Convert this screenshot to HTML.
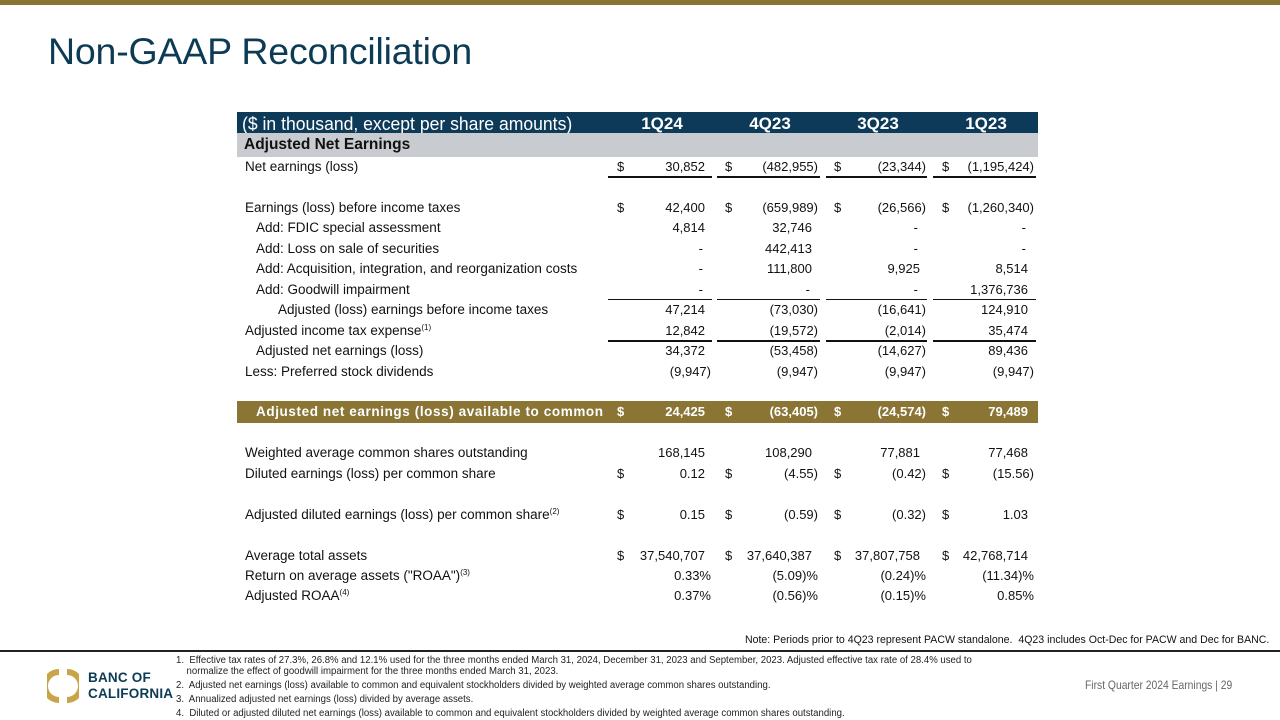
<!DOCTYPE html>
<html><head><meta charset="utf-8">
<style>
*{margin:0;padding:0;box-sizing:border-box}
body{width:1280px;height:720px;background:#fff;position:relative;overflow:hidden;font-family:"Liberation Sans",Arial,sans-serif;color:#111}
.abs{position:absolute;white-space:nowrap}
.t{font-size:13px;line-height:16px}
.lab{font-size:13.5px;line-height:16px}
.r{text-align:right}
sup{font-size:8px;line-height:0;vertical-align:5px}
</style></head>
<body>
<div class="abs" style="left:0;top:0;width:1280px;height:5px;background:#8a7535"></div>
<div class="abs" style="left:48px;top:30px;font-size:37.5px;color:#0d3b55;letter-spacing:-0.2px">Non-GAAP Reconciliation</div>

<div id="tbl" class="abs" style="left:0;top:0;width:1280px;height:720px"></div>

<div class="abs" style="left:745px;top:634px;font-size:11px;transform:scaleX(0.96);transform-origin:left">Note: Periods prior to 4Q23 represent PACW standalone.&nbsp; 4Q23 includes Oct-Dec for PACW and Dec for BANC.</div>
<div class="abs" style="left:0;top:650px;width:1280px;height:2px;background:#222"></div>

<svg class="abs" style="left:47px;top:669px" width="32" height="34" viewBox="0 0 32 34">
<path d="M12 3 A14 14 0 0 0 12 31" fill="none" stroke="#c9a449" stroke-width="6"/>
<path d="M20 3 A14 14 0 0 1 20 31" fill="none" stroke="#c9a449" stroke-width="6"/>
</svg>
<div class="abs" style="left:88px;top:670px;font-size:13.5px;font-weight:bold;color:#0d3b55;line-height:16px;letter-spacing:0.2px">BANC OF<br>CALIFORNIA</div>

<div class="abs" style="left:176px;top:655px;font-size:10px;line-height:11px;color:#222;transform:scaleX(0.96);transform-origin:left">
<div>1.&nbsp; Effective tax rates of 27.3%, 26.8% and 12.1% used for the three months ended March 31, 2024, December 31, 2023 and September, 2023. Adjusted effective tax rate of 28.4% used to</div>
<div style="margin-left:11px">normalize the effect of goodwill impairment for the three months ended March 31, 2023.</div>
<div style="margin-top:3px">2.&nbsp; Adjusted net earnings (loss) available to common and equivalent stockholders divided by weighted average common shares outstanding.</div>
<div style="margin-top:3px">3.&nbsp; Annualized adjusted net earnings (loss) divided by average assets.</div>
<div style="margin-top:3px">4.&nbsp; Diluted or adjusted diluted net earnings (loss) available to common and equivalent stockholders divided by weighted average common shares outstanding.</div>
</div>
<div class="abs" style="left:1085px;top:678px;font-size:12px;color:#666;transform:scaleX(0.86);transform-origin:left">First Quarter 2024 Earnings | 29</div>

<script>
const periods = ["1Q24","4Q23","3Q23","1Q23"];
const rowLabels = ["Net earnings (loss)","","Earnings (loss) before income taxes","Add: FDIC special assessment","Add: Loss on sale of securities","Add: Acquisition, integration, and reorganization costs","Add: Goodwill impairment","Adjusted (loss) earnings before income taxes","Adjusted income tax expense","Adjusted net earnings (loss)","Less: Preferred stock dividends","","Adjusted net earnings (loss) available to common","","Weighted average common shares outstanding","Diluted earnings (loss) per common share","","Adjusted diluted earnings (loss) per common share","","Average total assets","Return on average assets (\"ROAA\")","Adjusted ROAA"];
const rowSup = ["","","","","","","","","(1)","","","","","","","","","(2)","","","(3)","(4)"];
const rowIndent = [0,0,0,1,1,1,1,2,0,1,0,0,1,0,0,0,0,0,0,0,0,0];
const rowDollar = [1,0,1,0,0,0,0,0,0,0,0,0,1,0,0,1,0,1,0,1,0,0];
const col1Q24 = ["30,852","","42,400","4,814","-","-","-","47,214","12,842","34,372","(9,947)","","24,425","","168,145","0.12","","0.15","","37,540,707","0.33%","0.37%"];
const col4Q23 = ["(482,955)","","(659,989)","32,746","442,413","111,800","-","(73,030)","(19,572)","(53,458)","(9,947)","","(63,405)","","108,290","(4.55)","","(0.59)","","37,640,387","(5.09)%","(0.56)%"];
const col3Q23 = ["(23,344)","","(26,566)","-","-","9,925","-","(16,641)","(2,014)","(14,627)","(9,947)","","(24,574)","","77,881","(0.42)","","(0.32)","","37,807,758","(0.24)%","(0.15)%"];
const col1Q23 = ["(1,195,424)","","(1,260,340)","-","-","8,514","1,376,736","124,910","35,474","89,436","(9,947)","","79,489","","77,468","(15.56)","","1.03","","42,768,714","(11.34)%","0.85%"];
const underlineRows = [0,6,8];
const underlineThick = [2,1,2];

const cols = [col1Q24,col4Q23,col3Q23,col1Q23];
const T = document.getElementById('tbl');
const colEdge = [705,812,920,1028];
const dollarX = [617,725,834,942];
const headX = [662,770,878,986];
const rowY = i => 167 + i*20.45;
function add(html, style, cls){
  const d = document.createElement('div');
  d.className = 'abs ' + (cls||'');
  d.setAttribute('style', style);
  d.innerHTML = html;
  T.appendChild(d);
  return d;
}
let h = add('', 'left:237px;top:112px;width:801px;height:21px;background:#0e3a59');


h = add('($ in thousand, except per share amounts)', 'left:242px;top:113px;font-size:18.5px;color:#fff;line-height:21px;transform:scaleX(0.95);transform-origin:left');


periods.forEach((p,j)=>{
  const e = add(p, 'left:'+(headX[j]-30)+'px;width:60px;top:113px;font-size:17px;font-weight:bold;color:#fff;line-height:21px;text-align:center');
  
  
});
h = add('Adjusted Net Earnings', 'left:237px;top:133px;width:801px;height:24px;background:#c8ccd0;font-size:15.5px;font-weight:bold;padding-left:7px;line-height:23px');



rowLabels.forEach((lab,i)=>{
  if(!lab) return;
  const y = rowY(i) - 8;
  const hl = (i===12);
  if(hl){
    const b = add('', 'left:237px;top:'+(y-3)+'px;width:801px;height:22px;background:#8a7535');
    
    
  }
  const style = hl ? 'color:#fff;font-weight:bold;' : '';
  const lx = [245,256,278][rowIndent[i]];
  const l = add(lab + (rowSup[i]?'<sup>'+rowSup[i]+'</sup>':''), 'left:'+lx+'px;top:'+y+'px;'+style+(hl?'letter-spacing:0.6px;':''), 'lab');
  
  
  cols.forEach((c,j)=>{
    const v = c[i];
    if(rowDollar[i]){
      const d = add('$', 'left:'+dollarX[j]+'px;top:'+y+'px;'+style, 't');
      
      
    }
    if(!v) return;
    const hang = /[)%]$/.test(v) ? 6 : 0;
    const dash = v === '-' ? -2 : 0;
    const e = add(v, 'left:'+(colEdge[j]+hang+dash-120)+'px;width:120px;top:'+y+'px;'+style, 't r');
    
    
  });
});
underlineRows.forEach((r,k)=>{
  [[608,712],[717,820],[826,927],[933,1036]].forEach(s=>{
    const e = add('', 'left:'+s[0]+'px;top:'+(rowY(r)+9)+'px;width:'+(s[1]-s[0])+'px;height:'+underlineThick[k]+'px;background:#111');
    
    
  });
});
</script>
</body></html>
